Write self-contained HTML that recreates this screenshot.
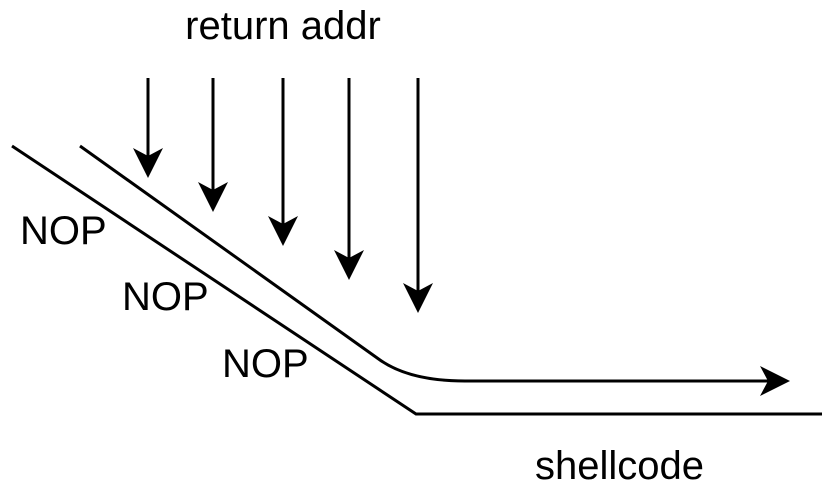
<!DOCTYPE html>
<html><head><style>body{margin:0;background:#fff}svg{display:block}text{font-family:"Liberation Sans",Arial,sans-serif;font-size:40px;fill:#000}</style></head>
<body>
<svg width="830" height="489" viewBox="0 0 830 489">
<g stroke="#000" stroke-width="3" fill="none">
<line x1="148" y1="78" x2="148" y2="160"/>
<line x1="213" y1="78" x2="213" y2="195"/>
<line x1="283" y1="78" x2="283" y2="228"/>
<line x1="349" y1="78" x2="349" y2="262"/>
<line x1="418" y1="78" x2="418" y2="295"/>
<polyline points="12,146 416,414 822,414"/>
<path d="M80,146 L380,360 Q410,381 465,381 L770,381"/>
</g>
<g fill="#000">
<path d="M148,178 l-15,-30 l15,8 l15,-8z"/>
<path d="M213,212 l-15,-30 l15,8 l15,-8z"/>
<path d="M283,246 l-15,-30 l15,8 l15,-8z"/>
<path d="M349,280 l-15,-30 l15,8 l15,-8z"/>
<path d="M418,313 l-15,-30 l15,8 l15,-8z"/>
<path d="M790,381 l-30,-15 l8,15 l-8,15z"/>
</g>
<text x="283" y="39" text-anchor="middle">return addr</text>
<text x="20" y="244">NOP</text>
<text x="122" y="310">NOP</text>
<text x="222" y="377">NOP</text>
<text x="535" y="479">shellcode</text>
</svg>
</body></html>
